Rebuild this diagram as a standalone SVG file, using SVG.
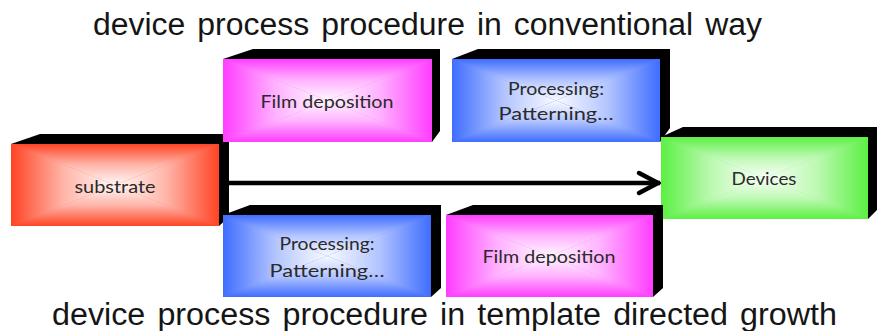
<svg xmlns="http://www.w3.org/2000/svg" width="877" height="331" viewBox="0 0 877 331">
<defs>
<style>
.title{font-family:"Liberation Sans",Arial,sans-serif;font-size:31px;fill:#151515;word-spacing:3px;}
.lbl{font-family:Lato,"Open Sans",sans-serif;font-size:18px;fill:#2a2a2a;text-anchor:middle;}
.side{fill:#000;}
.red{fill:#FF4424;}
.mag{fill:#FF3DFF;}
.blu{fill:#3F6DFF;}
.grn{fill:#5CF043;}
</style>
<linearGradient id="gT" x1="0" y1="0" x2="0" y2="1"><stop offset="0" stop-color="#fff" stop-opacity="0"/><stop offset="0.5" stop-color="#fff" stop-opacity="0.6"/><stop offset="1" stop-color="#fff" stop-opacity="0.97"/></linearGradient>
<linearGradient id="gB" x1="0" y1="1" x2="0" y2="0"><stop offset="0" stop-color="#fff" stop-opacity="0"/><stop offset="0.5" stop-color="#fff" stop-opacity="0.6"/><stop offset="1" stop-color="#fff" stop-opacity="0.97"/></linearGradient>
<linearGradient id="gL" x1="0" y1="0" x2="1" y2="0"><stop offset="0" stop-color="#fff" stop-opacity="0"/><stop offset="0.5" stop-color="#fff" stop-opacity="0.6"/><stop offset="1" stop-color="#fff" stop-opacity="0.97"/></linearGradient>
<linearGradient id="gR" x1="1" y1="0" x2="0" y2="0"><stop offset="0" stop-color="#fff" stop-opacity="0"/><stop offset="0.5" stop-color="#fff" stop-opacity="0.6"/><stop offset="1" stop-color="#fff" stop-opacity="0.97"/></linearGradient>
<marker id="chev" markerUnits="userSpaceOnUse" markerWidth="40" markerHeight="40" viewBox="-30 -20 40 40" refX="0" refY="0" orient="auto" overflow="visible">
<path d="M-21,-10 L-2,0 L-21,10" fill="none" stroke="#000" stroke-width="4.5" stroke-linecap="round" stroke-linejoin="miter"/>
</marker>
</defs>
<rect width="877" height="331" fill="#fff"/>

<text class="title" x="93" y="35" textLength="669" lengthAdjust="spacingAndGlyphs">device process procedure in conventional way</text>
<text class="title" x="52" y="325" textLength="785" lengthAdjust="spacingAndGlyphs">device process procedure in template directed growth</text>

<g id="connectors">
<line x1="229" y1="183" x2="660" y2="183" stroke="#000" stroke-width="4.5" marker-end="url(#chev)"/>
</g>

<g id="substrate">
<polygon class="side" points="11,144 40,134 229,134 229,217 219,226"/>
<rect class="red" x="11" y="144" width="208" height="82"/>
<polygon points="11,144 219,144 115,185" fill="url(#gT)"/>
<polygon points="11,226 219,226 115,185" fill="url(#gB)"/>
<polygon points="11,144 11,226 115,185" fill="url(#gL)"/>
<polygon points="219,144 219,226 115,185" fill="url(#gR)"/>
<text class="lbl" x="115" y="193" font-size="17" textLength="81" lengthAdjust="spacingAndGlyphs">substrate</text>
</g>

<g id="film-top">
<polygon class="side" points="223,59 253,49 440,49 440,131 432,142"/>
<rect class="mag" x="223" y="59" width="209" height="83"/>
<polygon points="223,59 432,59 327.5,100.5" fill="url(#gT)"/>
<polygon points="223,142 432,142 327.5,100.5" fill="url(#gB)"/>
<polygon points="223,59 223,142 327.5,100.5" fill="url(#gL)"/>
<polygon points="432,59 432,142 327.5,100.5" fill="url(#gR)"/>
<text class="lbl" x="327" y="108" textLength="133" lengthAdjust="spacingAndGlyphs">Film deposition</text>
</g>

<g id="processing-top">
<polygon class="side" points="452,59 478,49 670,49 670,128 660,142"/>
<rect class="blu" x="452" y="59" width="208" height="83"/>
<polygon points="452,59 660,59 556,100.5" fill="url(#gT)"/>
<polygon points="452,142 660,142 556,100.5" fill="url(#gB)"/>
<polygon points="452,59 452,142 556,100.5" fill="url(#gL)"/>
<polygon points="660,59 660,142 556,100.5" fill="url(#gR)"/>
<text class="lbl" x="556" y="95" textLength="96" lengthAdjust="spacingAndGlyphs">Processing:</text>
<text class="lbl" x="556" y="120" textLength="115" lengthAdjust="spacingAndGlyphs">Patterning…</text>
</g>

<g id="devices">
<polygon class="side" points="661,137 683,127 877,127 877,210 868,219"/>
<rect class="grn" x="661" y="137" width="207" height="82"/>
<polygon points="661,137 868,137 764.5,178" fill="url(#gT)"/>
<polygon points="661,219 868,219 764.5,178" fill="url(#gB)"/>
<polygon points="661,137 661,219 764.5,178" fill="url(#gL)"/>
<polygon points="868,137 868,219 764.5,178" fill="url(#gR)"/>
<text class="lbl" x="764" y="185" font-size="17" textLength="65" lengthAdjust="spacingAndGlyphs">Devices</text>
</g>

<g id="processing-bottom">
<polygon class="side" points="223,215 250,205 441,205 441,288 431,297"/>
<rect class="blu" x="223" y="215" width="208" height="82"/>
<polygon points="223,215 431,215 327,256" fill="url(#gT)"/>
<polygon points="223,297 431,297 327,256" fill="url(#gB)"/>
<polygon points="223,215 223,297 327,256" fill="url(#gL)"/>
<polygon points="431,215 431,297 327,256" fill="url(#gR)"/>
<text class="lbl" x="327" y="250" textLength="95" lengthAdjust="spacingAndGlyphs">Processing:</text>
<text class="lbl" x="327" y="277" textLength="115" lengthAdjust="spacingAndGlyphs">Patterning…</text>
</g>

<g id="film-bottom">
<polygon class="side" points="446,215 473,205 663,205 663,288 653,297"/>
<rect class="mag" x="446" y="215" width="207" height="82"/>
<polygon points="446,215 653,215 549.5,256" fill="url(#gT)"/>
<polygon points="446,297 653,297 549.5,256" fill="url(#gB)"/>
<polygon points="446,215 446,297 549.5,256" fill="url(#gL)"/>
<polygon points="653,215 653,297 549.5,256" fill="url(#gR)"/>
<text class="lbl" x="549" y="263" textLength="133" lengthAdjust="spacingAndGlyphs">Film deposition</text>
</g>
</svg>
